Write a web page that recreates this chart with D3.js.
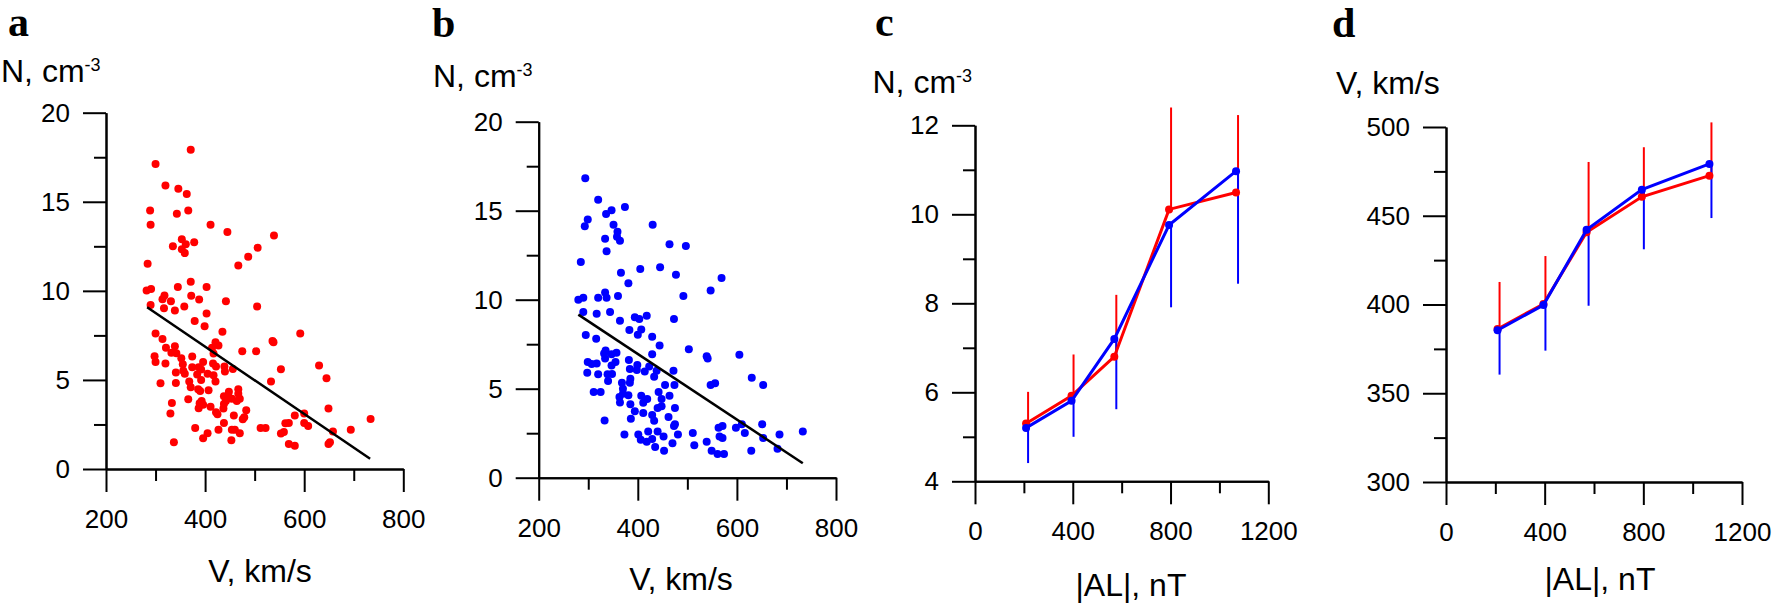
<!DOCTYPE html>
<html><head><meta charset="utf-8">
<script src="https://cdn.jsdelivr.net/npm/d3@7"></script>
<style>
body{margin:0;background:#fff}
svg{display:block}
text{font-family:"Liberation Sans",Arial,sans-serif;fill:#000}
</style>
</head><body>
<svg id="chart" width="1773" height="607"></svg>
<script>
// ---------------- DATA ----------------
// Panel a: solar wind speed V (km/s) vs density N (cm^-3), red scatter
const aPoints = [[371,17.92],[300,17.12],[320,15.92],[346,15.73],[363,15.43],[289,14.51],[343,14.33],[366,14.51],[290,13.71],[411,13.71],[445,13.31],[539,13.11],[353,12.9],[378,12.73],[361,12.62],[335,12.51],[353,12.34],[359,12.12],[506,12.42],[487,11.91],[467,11.42],[284,11.52],[282,10.02],[291,10.11],[371,10.51],[345,10.22],[403,10.22],[318,9.74],[372,9.72],[314,9.53],[331,9.42],[388,9.51],[442,9.42],[290,9.21],[317,9.03],[358,9.12],[505,9.12],[339,8.9],[403,8.73],
[379,8.31],[399,8.01],[435,7.70],[300,7.60],[314,7.30],[592,7.60],[536,7.19],[538,7.12],[421,7.12],[427,6.93],[339,6.89],[321,6.80],[414,6.80],[475,6.61],[503,6.61],[332,6.52],[342,6.50],[298,6.33],[417,6.48],[374,6.31],[352,6.22],[300,6.01],[320,5.92],[396,6.01],[355,5.88],[416,5.92],[374,5.71],[387,5.71],[422,5.75],[439,5.75],[456,5.62],[630,5.81],[553,5.60],[356,5.51],[392,5.58],[440,5.47],[341,5.41],[359,5.34],[405,5.34],[384,5.30],[417,5.26],[392,5.00],[421,4.91],[368,4.91],[341,4.83],[310,4.81],[533,4.91],[645,5.09],[371,4.59],[386,4.48],[390,4.38],[407,4.42],[467,4.48],[448,4.33],[467,4.23],[438,4.08],[448,4.03],[454,3.95],[470,3.95],[366,3.91],[442,3.82],[464,3.82],[393,3.82],[333,3.71],[389,3.69],[396,3.61],[438,3.65],[411,3.50],[387,3.41],[437,3.39],[649,3.39],[483,3.30],[422,3.18],[425,3.07],[330,3.11],[458,3.01],[581,3.00],[600,3.11],[479,2.90],[476,2.79],[734,2.81],[569,2.58],[562,2.57],[438,2.58],[600,2.58],[608,2.42],[380,2.30],[512,2.30],[522,2.30],[427,2.21],[454,2.21],[460,2.21],[694,2.21],[658,2.10],[559,2.08],[553,1.99],[405,2.00],[470,2.00],[396,1.72],[453,1.61],[337,1.50],[569,1.40],[581,1.31],[652,1.50],[649,1.40]];
const aFitV = [283, 733];
const aFitN = [9.08, 0.58];

// Panel b: blue scatter
const bPoints = [[294,16.82],[320,15.62],[374,15.21],[347,15.02],[336,14.81],[299,14.51],[293,14.12],[351,14.21],[430,14.21],[359,13.82],[358,13.54],[334,13.43],[364,13.31],[464,13.11],[497,13.01],[337,12.72],[285,12.12],[366,11.52],[405,11.72],[445,11.82],[477,11.40],[569,11.22],[381,10.92],[547,10.51],[334,10.41],[290,10.11],[280,10.00],[320,10.11],[337,10.11],[360,10.21],[492,10.21],[290,9.31],[317,9.21],[344,9.31],[394,9.01],[403,8.91],[418,9.10],[473,8.91],[364,8.82],
[383,8.30],[407,8.33],[400,8.03],[295,8.01],[316,7.81],[429,7.92],[444,7.42],[503,7.21],[335,7.15],[332,6.98],[357,7.02],[347,6.93],[429,6.93],[605,6.91],[539,6.82],[541,6.70],[334,6.70],[382,6.61],[299,6.50],[355,6.50],[307,6.39],[317,6.42],[347,6.31],[399,6.33],[423,6.25],[384,6.10],[398,6.05],[438,6.01],[472,6.01],[414,5.96],[298,5.90],[320,5.81],[339,5.81],[348,5.82],[433,5.67],[385,5.56],[630,5.62],[340,5.43],[368,5.34],[384,5.34],[455,5.21],[474,5.21],[547,5.21],[556,5.30],[653,5.21],[370,5.00],[311,4.81],[325,4.81],[442,4.81],[370,4.72],[381,4.63],[363,4.53],[407,4.61],[464,4.61],[419,4.42],[448,4.42],[411,4.21],[364,4.23],[385,4.12],[448,4.01],[440,3.91],[475,3.91],[394,3.73],[411,3.63],[429,3.52],[462,3.41],[333,3.22],[386,3.31],[433,3.20],[475,3.00],[473,2.90],[563,2.81],[571,2.90],[598,2.81],[610,3.00],[651,3.00],[733,2.60],[421,2.60],[440,2.60],[373,2.42],[401,2.42],[481,2.42],[511,2.51],[616,2.51],[686,2.42],[452,2.32],[565,2.32],[571,2.23],[653,2.23],[406,2.13],[429,2.17],[418,2.02],[539,2.02],[470,1.93],[514,1.82],[435,1.72],[682,1.63],[453,1.52],[549,1.52],[629,1.52],[561,1.33],[574,1.33]];
const bFitV = [280, 733];
const bFitN = [9.16, 0.81];

// Panels c, d: |AL| bins
const AL = [209, 395, 570, 794, 1068];
const cRed = [5.30, 5.92, 6.80, 10.11, 10.49];
const cRedErr = [0.71, 0.93, 1.39, 2.29, 1.74];
const cBlue = [5.20, 5.81, 7.20, 9.76, 10.97];
const cBlueErr = [0.79, 0.81, 1.58, 1.85, 2.53];
const dRed = [386.2, 400.3, 440.7, 460.7, 472.6];
const dRedErr = [26.5, 27.0, 39.6, 27.9, 30.0];
const dBlue = [385.5, 399.7, 442.1, 464.7, 479.2];
const dBlueErr = [25.0, 25.7, 42.8, 33.6, 30.5];

// Tick values
const vTicks = [200, 400, 600, 800];
const vMinor = [300, 500, 700];
const nTicks = [0, 5, 10, 15, 20];
const nMinor = [2.5, 7.5, 12.5, 17.5];
const alTicks = [0, 400, 800, 1200];
const alMinor = [200, 600, 1000];
const cTicks = [4, 6, 8, 10, 12];
const cMinor = [5, 7, 9, 11];
const dTicks = [300, 350, 400, 450, 500];
const dMinor = [325, 375, 425, 475];

// ---------------- DRAW ----------------
const RED = '#ff0000', BLUE = '#0000ff';
const svg = d3.select('#chart');

function panel(cfg) {
  const g = svg.append('g');
  const x = d3.scaleLinear().domain(cfg.xDomain).range(cfg.xRange);
  const y = d3.scaleLinear().domain(cfg.yDomain).range(cfg.yRange);

  function styleAxis(sel) {
    sel.selectAll('path,line').attr('stroke', '#000').attr('stroke-width', 2);
    sel.selectAll('text').attr('font-size', 26).attr('font-family', '"Liberation Sans", Arial, sans-serif').attr('fill', '#000');
  }
  // minor ticks
  g.append('g').attr('transform', `translate(${cfg.xRange[0]},0)`)
    .call(d3.axisLeft(y).tickValues(cfg.yMinor).tickSize(12).tickSizeOuter(0).tickFormat(''))
    .call(styleAxis);
  g.append('g').attr('transform', `translate(0,${cfg.yRange[0]})`)
    .call(d3.axisBottom(x).tickValues(cfg.xMinor).tickSize(12).tickSizeOuter(0).tickFormat(''))
    .call(styleAxis);
  // major ticks
  g.append('g').attr('transform', `translate(${cfg.xRange[0]},0)`)
    .call(d3.axisLeft(y).tickValues(cfg.yTicks).tickSize(23).tickSizeOuter(0).tickPadding(13).tickFormat(d3.format('d')))
    .call(styleAxis);
  g.append('g').attr('transform', `translate(0,${cfg.yRange[0]})`)
    .call(d3.axisBottom(x).tickValues(cfg.xTicks).tickSize(23).tickSizeOuter(0).tickPadding(17.5).tickFormat(d3.format('d')))
    .call(styleAxis);

  // panel letter
  g.append('text').attr('x', cfg.letter[0]).attr('y', cfg.letter[1])
    .attr('font-family', '"Liberation Serif", "Times New Roman", serif')
    .style('font-family', '"Liberation Serif", "Times New Roman", serif')
    .attr('font-weight', 'bold').attr('font-size', 42).text(cfg.letterText);
  // y title
  const yt = g.append('text').attr('x', cfg.yTitle[0]).attr('y', cfg.yTitle[1]).attr('font-size', 32);
  yt.append('tspan').text(cfg.yTitleText);
  if (cfg.yTitleSup) {
    yt.append('tspan').attr('font-size', 18).attr('dy', -11).text(cfg.yTitleSup);
  }
  // x title
  g.append('text').attr('x', cfg.xTitle[0]).attr('y', cfg.xTitle[1]).attr('font-size', 32)
    .attr('text-anchor', 'middle').text(cfg.xTitleText);

  return {g, x, y};
}

function scatterPanel(cfg, pts, fitV, fitN, color) {
  const {g, x, y} = panel(cfg);
  g.append('g').selectAll('circle').data(pts).join('circle')
    .attr('cx', d => x(d[0])).attr('cy', d => y(d[1])).attr('r', 4).attr('fill', color);
  g.append('line')
    .attr('x1', x(fitV[0])).attr('y1', y(fitN[0]))
    .attr('x2', x(fitV[1])).attr('y2', y(fitN[1]))
    .attr('stroke', '#000').attr('stroke-width', 2.5);
}

function linePanel(cfg, red, redErr, blue, blueErr) {
  const {g, x, y} = panel(cfg);
  const off = 2;
  // error bars: red upward, blue downward
  g.append('g').selectAll('line').data(AL).join('line')
    .attr('x1', (d) => x(d) + off).attr('x2', (d) => x(d) + off)
    .attr('y1', (d, i) => y(red[i])).attr('y2', (d, i) => y(red[i] + redErr[i]))
    .attr('stroke', RED).attr('stroke-width', 2);
  g.append('g').selectAll('line').data(AL).join('line')
    .attr('x1', (d) => x(d) + off).attr('x2', (d) => x(d) + off)
    .attr('y1', (d, i) => y(blue[i])).attr('y2', (d, i) => y(blue[i] - blueErr[i]))
    .attr('stroke', BLUE).attr('stroke-width', 2);
  const line = d3.line().x(d => x(d[0])).y(d => y(d[1]));
  const redPts = AL.map((a, i) => [a, red[i]]);
  const bluePts = AL.map((a, i) => [a, blue[i]]);
  g.append('path').attr('d', line(redPts)).attr('fill', 'none').attr('stroke', RED).attr('stroke-width', 3);
  g.append('g').selectAll('circle').data(redPts).join('circle')
    .attr('cx', d => x(d[0])).attr('cy', d => y(d[1])).attr('r', 4).attr('fill', RED);
  g.append('path').attr('d', line(bluePts)).attr('fill', 'none').attr('stroke', BLUE).attr('stroke-width', 3);
  g.append('g').selectAll('circle').data(bluePts).join('circle')
    .attr('cx', d => x(d[0])).attr('cy', d => y(d[1])).attr('r', 4).attr('fill', BLUE);
}

scatterPanel({
  xDomain: [200, 800], xRange: [106, 403.3], yDomain: [0, 20], yRange: [469, 112.7],
  xTicks: vTicks, xMinor: vMinor, yTicks: nTicks, yMinor: nMinor,
  letter: [8, 36], letterText: 'a', yTitle: [1, 81.7], yTitleText: 'N, cm', yTitleSup: '-3',
  xTitle: [260, 581.7], xTitleText: 'V, km/s'
}, aPoints, aFitV, aFitN, RED);

scatterPanel({
  xDomain: [200, 800], xRange: [538.7, 836], yDomain: [0, 20], yRange: [477.7, 121.7],
  xTicks: vTicks, xMinor: vMinor, yTicks: nTicks, yMinor: nMinor,
  letter: [432, 36.7], letterText: 'b', yTitle: [433, 87.3], yTitleText: 'N, cm', yTitleSup: '-3',
  xTitle: [681, 590], xTitleText: 'V, km/s'
}, bPoints, bFitV, bFitN, BLUE);

linePanel({
  xDomain: [0, 1200], xRange: [975, 1268.3], yDomain: [4, 12], yRange: [481.3, 125.3],
  xTicks: alTicks, xMinor: alMinor, yTicks: cTicks, yMinor: cMinor,
  letter: [875, 36], letterText: 'c', yTitle: [872.5, 92.7], yTitleText: 'N, cm', yTitleSup: '-3',
  xTitle: [1131, 596], xTitleText: '|AL|, nT'
}, cRed, cRedErr, cBlue, cBlueErr);

linePanel({
  xDomain: [0, 1200], xRange: [1446, 1742], yDomain: [300, 500], yRange: [482, 127],
  xTicks: alTicks, xMinor: alMinor, yTicks: dTicks, yMinor: dMinor,
  letter: [1332, 36.7], letterText: 'd', yTitle: [1336, 94], yTitleText: 'V, km/s',
  xTitle: [1600, 590], xTitleText: '|AL|, nT'
}, dRed, dRedErr, dBlue, dBlueErr);
</script>
</body></html>
